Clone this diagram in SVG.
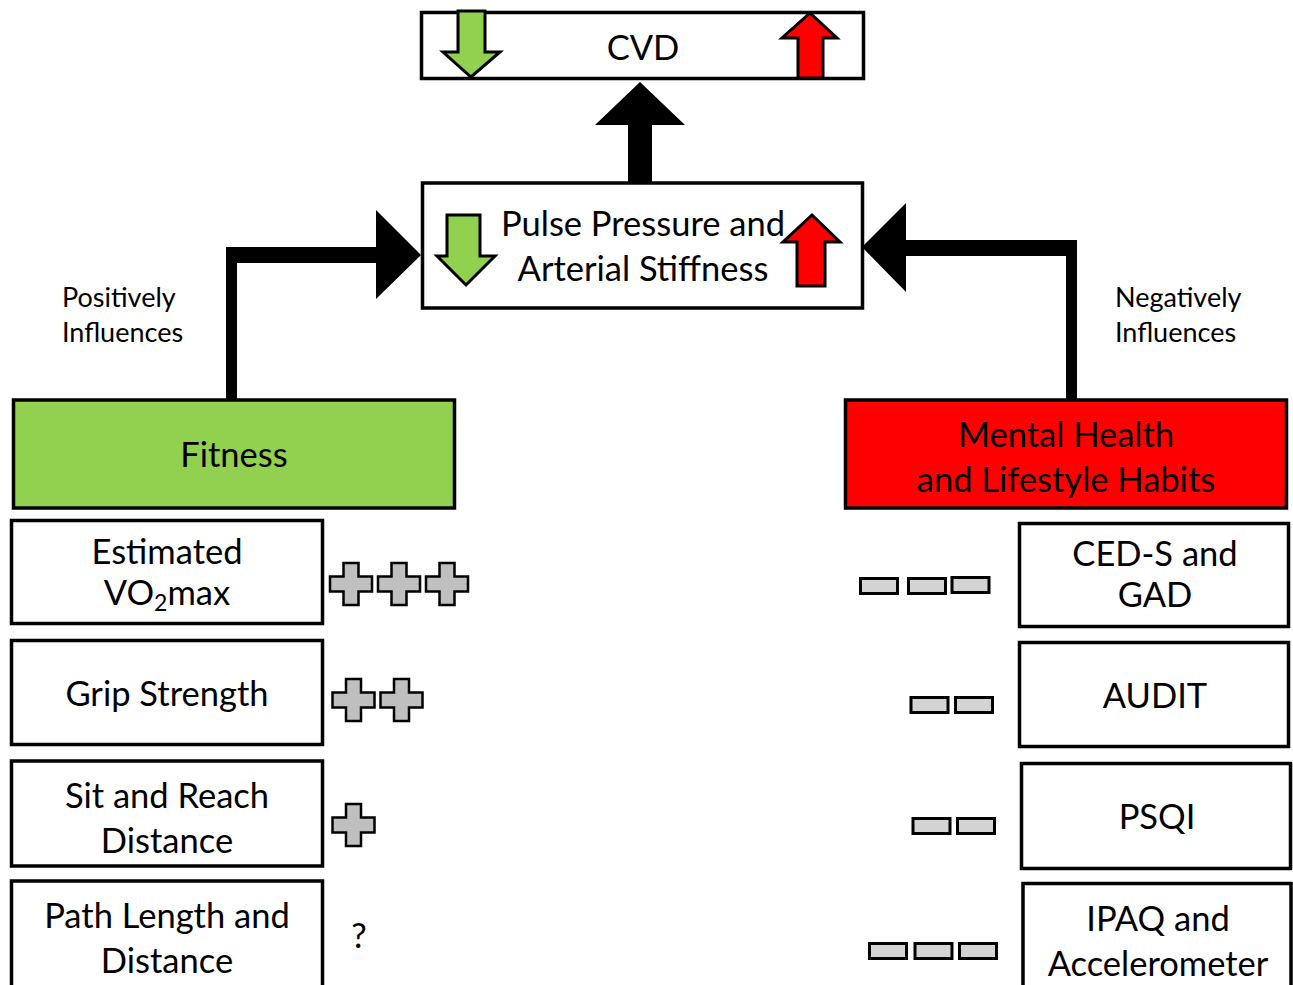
<svg xmlns="http://www.w3.org/2000/svg" xmlns:xlink="http://www.w3.org/1999/xlink" width="1293" height="985" viewBox="0 0 1293 985">
<defs>
<style>
.box{fill:#fff;stroke:#000;stroke-width:3.5}
.t{font-family:Lato,"Liberation Sans",sans-serif;font-size:34.5px;fill:#000;text-anchor:middle}
.lbl{font-family:Lato,"Liberation Sans",sans-serif;font-size:27px;fill:#000}
.plus{fill:#BFBFBF;stroke:#000;stroke-width:2.5}
.minus{fill:#D3D3D3;stroke:#000;stroke-width:3}
.conn{fill:#000}
.ga{fill:#92D050;stroke:#000;stroke-width:3;stroke-linejoin:miter}
.ra{fill:#FF0000;stroke:#000;stroke-width:3;stroke-linejoin:miter}
</style>
<path id="plus" class="plus" d="M-7.5,-21 H7.5 V-7.5 H21 V7.5 H7.5 V21 H-7.5 V7.5 H-21 V-7.5 H-7.5 Z"/>
<rect id="minus" class="minus" x="-18.5" y="-7.5" width="37" height="15"/>
</defs>
<rect width="1293" height="985" fill="#fff"/>

<g id="connectors">
<polygon class="conn" points="628,183 652,183 652,125 685,125 640,82 595,125 628,125"/>
<polygon class="conn" points="226,400 237,400 237,263 376,263 376,299 421,255 376,210 376,247 226,247"/>
<polygon class="conn" points="1077,400 1066,400 1066,256 906,256 906,292 862,247 906,203 906,240 1077,240"/>
</g>

<g id="cvd">
<rect class="box" x="421.5" y="12.5" width="442" height="66"/>
<polygon class="ga" points="458,11 485,11 485,52 500,52 471,77 443,52 458,52"/>
<polygon class="ra" points="798,78 823,78 823,38 837,38 810,13 782,38 798,38"/>
<text class="t" x="643" y="60">CVD</text>
</g>

<g id="pulse">
<rect class="box" x="422.5" y="183" width="440" height="125"/>
<polygon class="ga" points="447,215 480,215 480,256 495,256 466,285 437,256 447,256"/>
<polygon class="ra" points="797,286 825,286 825,242 840,242 812,215 783,242 797,242"/>
<text class="t" x="643" y="236">Pulse Pressure and</text>
<text class="t" x="643" y="281">Arterial Stiffness</text>
</g>

<g id="lbl-pos">
<text class="lbl" x="62" y="307">Positively</text>
<text class="lbl" x="62" y="342">Influences</text>
</g>
<g id="lbl-neg">
<text class="lbl" x="1115" y="307">Negatively</text>
<text class="lbl" x="1115" y="342">Influences</text>
</g>

<g id="fitness">
<rect x="13.5" y="400" width="441" height="108" fill="#92D050" stroke="#000" stroke-width="3.5"/>
<text class="t" x="234" y="467">Fitness</text>
</g>

<g id="mental">
<rect x="845.5" y="400" width="441" height="108" fill="#FF0000" stroke="#000" stroke-width="3.5"/>
<text class="t" x="1066" y="447">Mental Health</text>
<text class="t" x="1066" y="492">and Lifestyle Habits</text>
</g>

<g id="vo2">
<rect class="box" x="11.5" y="520.5" width="311" height="103"/>
<text class="t" x="167" y="564">Estimated</text>
<text class="t" x="167" y="605">VO<tspan font-size="23" dy="6">2</tspan><tspan dy="-6">max</tspan></text>
<use xlink:href="#plus" x="351" y="584"/>
<use xlink:href="#plus" x="399" y="584"/>
<use xlink:href="#plus" x="447" y="584"/>
</g>

<g id="grip">
<rect class="box" x="11.5" y="640.5" width="311" height="104"/>
<text class="t" x="167" y="706">Grip Strength</text>
<use xlink:href="#plus" x="353.5" y="700"/>
<use xlink:href="#plus" x="401.5" y="700"/>
</g>

<g id="sit">
<rect class="box" x="11.5" y="761" width="311" height="105"/>
<text class="t" x="167" y="808">Sit and Reach</text>
<text class="t" x="167" y="853">Distance</text>
<use xlink:href="#plus" x="353.5" y="825"/>
</g>

<g id="path">
<rect class="box" x="11.5" y="881" width="311" height="115"/>
<text class="t" x="167" y="928">Path Length and</text>
<text class="t" x="167" y="973">Distance</text>
<text class="t" x="359" y="948">?</text>
</g>

<g id="ceds">
<rect class="box" x="1019.5" y="523.5" width="269" height="103"/>
<text class="t" x="1155" y="566">CED-S and</text>
<text class="t" x="1155" y="607">GAD</text>
<use xlink:href="#minus" x="879" y="586"/>
<use xlink:href="#minus" x="927" y="586"/>
<use xlink:href="#minus" x="970.5" y="585"/>
</g>

<g id="audit">
<rect class="box" x="1019.5" y="642.5" width="269" height="104"/>
<text class="t" x="1155" y="708">AUDIT</text>
<use xlink:href="#minus" x="929.5" y="705"/>
<use xlink:href="#minus" x="974" y="705"/>
</g>

<g id="psqi">
<rect class="box" x="1021.5" y="763.5" width="269" height="105"/>
<text class="t" x="1157" y="829">PSQI</text>
<use xlink:href="#minus" x="931.5" y="826"/>
<use xlink:href="#minus" x="976" y="826"/>
</g>

<g id="ipaq">
<rect class="box" x="1023" y="883.5" width="268" height="115"/>
<text class="t" x="1158" y="931">IPAQ and</text>
<text class="t" x="1158" y="976">Accelerometer</text>
<use xlink:href="#minus" x="888" y="951"/>
<use xlink:href="#minus" x="933.5" y="951"/>
<use xlink:href="#minus" x="978" y="951"/>
</g>
</svg>
